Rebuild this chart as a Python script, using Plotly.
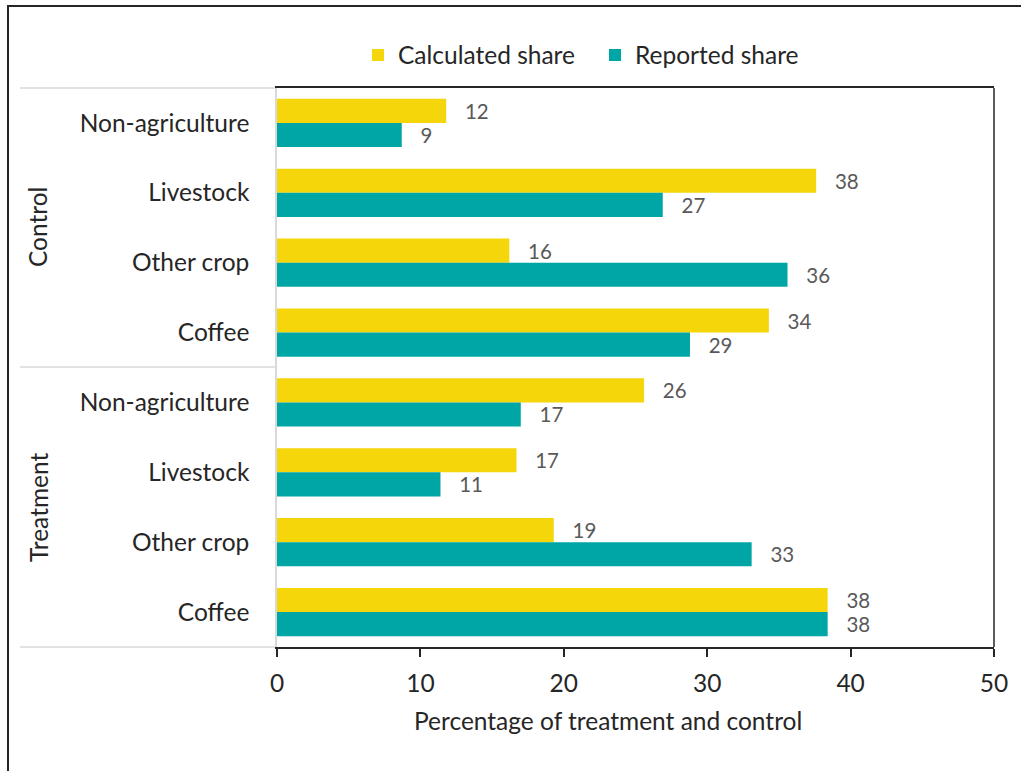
import plotly.graph_objects as go

# Income-source shares by study arm
groups = ["Control", "Treatment"]
sources = ["Non-agriculture", "Livestock", "Other crop", "Coffee"]

calculated_control = [11.8, 37.6, 16.2, 34.3]
reported_control = [8.7, 26.9, 35.6, 28.8]
calculated_treatment = [25.6, 16.7, 19.3, 38.4]
reported_treatment = [17.0, 11.4, 33.1, 38.4]

x_ticks = [0, 10, 20, 30, 40, 50]
x_title = "Percentage of treatment and control"

YELLOW = "#F5D60A"
TEAL = "#00A6A6"
INK = "#262626"
FONT = "Lato"
FS = 24.5

# unique category keys per group so repeated source names stay distinct
keys = [f"{g}|{s}" for g in groups for s in sources]
tick_text = [s for g in groups for s in sources]
calculated = calculated_control + calculated_treatment
reported = reported_control + reported_treatment

W, H = 1021, 771
L, R, T, B = 277, 27, 88, 124
pw, ph = W - L - R, H - T - B


def px_x(px):
    return (px - L) / pw


def px_y(py):
    return (H - B - py) / ph


fig = go.Figure()
for name, vals, color, rank in (("Calculated share", calculated, YELLOW, 1),
                                ("Reported share", reported, TEAL, 2)):
    fig.add_trace(go.Bar(
        y=keys, x=vals, orientation="h", name=name,
        marker=dict(color=color, line=dict(width=0)),
        texttemplate="\u00a0\u00a0\u00a0%{x:.0f}", textposition="outside",
        textfont=dict(family=FONT, size=20.5, color="#595959"),
        cliponaxis=False, legendrank=rank,
    ))

shapes = []
# group separators in the label column
for py in (88, 367, 647):
    shapes.append(dict(type="line", xref="paper", yref="paper",
                       x0=px_x(20), x1=0, y0=px_y(py), y1=px_y(py),
                       line=dict(color="#D9D9D9", width=1.5), layer="below"))
# right edge of the plot frame
shapes.append(dict(type="line", xref="paper", yref="paper",
                   x0=1, x1=1, y0=0, y1=1,
                   line=dict(color=INK, width=1.5)))
# outer border
shapes.append(dict(type="path", xref="paper", yref="paper",
                   path=f"M {px_x(8)},{px_y(780)} L {px_x(8)},{px_y(6)} L {px_x(1030)},{px_y(6)}",
                   line=dict(color=INK, width=2)))

annotations = []
for g, py in zip(groups, (227, 507)):
    annotations.append(dict(text=g, xref="paper", yref="paper",
                            x=px_x(38), y=px_y(py), textangle=-90,
                            showarrow=False, xanchor="center", yanchor="middle",
                            font=dict(family=FONT, size=FS, color=INK)))
# axis title, centred under the whole chart body
annotations.append(dict(text=x_title, xref="paper", yref="paper",
                        x=px_x(608), y=px_y(720), showarrow=False,
                        xanchor="center", yanchor="middle",
                        font=dict(family=FONT, size=FS, color=INK)))

fig.update_layout(
    width=W, height=H,
    margin=dict(l=L, r=R, t=T, b=B),
    paper_bgcolor="white", plot_bgcolor="white",
    barmode="group", bargap=0.31, bargroupgap=0,
    font=dict(family=FONT, color=INK),
    showlegend=True,
    legend=dict(orientation="h", x=px_x(358), y=px_y(55), xanchor="left", yanchor="middle",
                entrywidth=192,
                font=dict(family=FONT, size=FS, color=INK),
                bgcolor="rgba(0,0,0,0)"),
    shapes=shapes, annotations=annotations,
    xaxis=dict(range=[0, 50], tickvals=x_ticks, showgrid=False, zeroline=False,
               showline=True, linecolor=INK, linewidth=1.5, mirror=True,
               ticks="outside", ticklen=8, tickwidth=1.5, tickcolor=INK,
               ticklabelstandoff=6,
               tickfont=dict(family=FONT, size=FS, color=INK)),
    yaxis=dict(type="category", categoryorder="array", categoryarray=keys,
               tickvals=keys, ticktext=tick_text, autorange="reversed",
               showgrid=False, zeroline=False,
               showline=True, linecolor="#D9D9D9", linewidth=1.5,
               ticks="outside", ticklen=21, tickcolor="rgba(0,0,0,0)",
               tickfont=dict(family=FONT, size=FS, color=INK)),
)

fig.write_html("out.html")
